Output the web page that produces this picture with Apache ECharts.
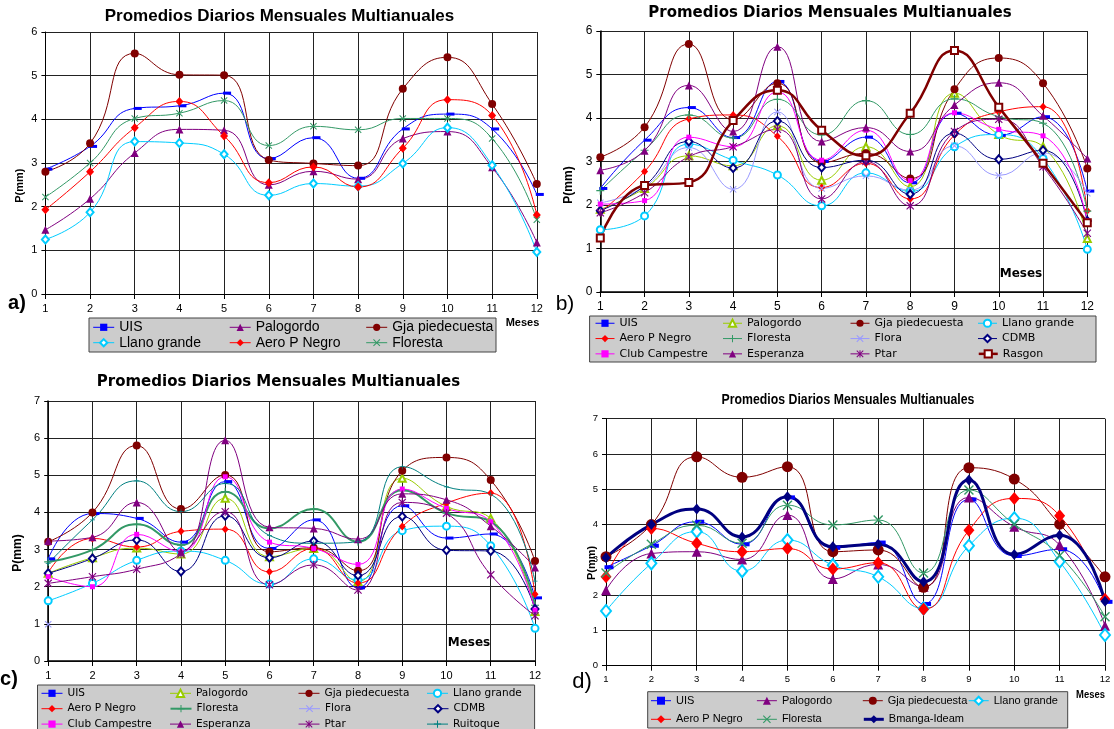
<!DOCTYPE html>
<html><head><meta charset="utf-8">
<script src="https://cdn.jsdelivr.net/npm/echarts@6/dist/echarts.min.js"></script>
<style>html,body{margin:0;padding:0;background:#fff}#c{width:1114px;height:729px}</style>
</head><body><div id="c"></div>
<script>
const months = ['1','2','3','4','5','6','7','8','9','10','11','12'];
const titleText = 'Promedios Diarios Mensuales Multianuales';

// Panel a
const a_UIS = [2.86,3.38,4.25,4.31,4.6,3.1,3.58,2.65,3.78,4.12,3.78,2.28];
const a_Palogordo = [1.47,2.18,3.23,3.77,3.75,2.5,2.81,2.63,3.56,3.72,2.9,1.18];
const a_Gja = [2.8,3.45,5.51,5.02,5.01,3.07,2.99,2.94,4.7,5.42,4.35,2.52];
const a_Llano = [1.25,1.87,3.49,3.46,3.2,2.26,2.53,2.47,2.99,3.81,2.95,0.96];
const a_Aero = [1.93,2.8,3.81,4.41,3.62,2.55,2.91,2.45,3.34,4.45,4.09,1.81];
const a_Floresta = [2.22,3.0,4.02,4.14,4.43,3.4,3.84,3.76,4.02,4.02,3.56,1.7];

// Panel b
const b_UIS = [2.38,3.49,4.24,3.55,4.84,3.0,3.56,2.51,4.11,3.6,4.03,2.32];
const b_Palogordo = [1.9,2.38,3.13,2.9,3.82,2.57,3.34,2.42,4.57,3.62,3.34,1.23];
const b_Gja = [3.1,3.79,5.7,3.96,4.8,2.97,3.19,2.61,4.66,5.38,4.8,2.84];
const b_Llano = [1.43,1.75,3.4,3.03,2.69,1.98,2.74,2.31,3.34,3.62,3.07,0.98];
const b_Aero = [1.83,2.77,3.98,4.07,3.58,2.4,2.96,2.14,3.61,4.14,4.26,1.87];
const b_Floresta = [2.33,3.26,4.07,3.54,4.43,3.61,4.4,3.62,4.44,4.03,3.88,1.86];
const b_Flora = [2.05,2.42,3.32,2.36,4.14,2.38,2.67,2.34,3.36,2.68,3.2,2.27];
const b_CDMB = [1.87,2.44,3.46,2.85,3.93,2.86,3.03,2.25,3.65,3.05,3.26,1.63];
const b_Club = [2.02,2.1,3.56,3.34,4.6,3.03,3.72,2.56,4.12,3.74,3.59,1.64];
const b_Esperanza = [2.8,3.25,4.75,3.69,5.64,3.46,3.78,3.23,4.3,4.81,4.05,3.07];
const b_Ptar = [1.82,2.28,3.11,3.34,3.74,2.14,3.0,1.98,3.69,3.97,2.88,1.35];
const b_Rasgon = [1.24,2.45,2.52,3.94,4.64,3.72,3.13,4.11,5.55,4.25,2.96,1.59];

// Panel c
const c_UIS = [2.75,3.97,3.84,3.2,4.83,3.03,3.8,1.97,4.18,3.31,3.42,1.7];
const c_Palogordo = [2.36,2.78,3.04,2.88,4.38,2.81,3.03,2.14,4.92,4.16,3.84,1.33];
const c_Gja = [3.21,4.0,5.8,4.09,5.01,2.94,3.05,2.43,5.12,5.48,4.87,2.69];
const c_Llano = [1.62,2.09,2.71,2.96,2.71,2.07,2.75,2.18,3.51,3.63,3.1,0.88];
const c_Aero = [2.38,3.3,3.07,3.49,3.55,2.4,3.03,2.1,3.62,4.25,4.52,1.8];
const c_Floresta = [2.67,2.99,3.68,3.12,4.56,3.57,4.09,3.21,4.6,3.98,3.75,1.5];
const c_Flora = [0.99,null,null,null,null,null,null,null,null,null,null,null];
const c_CDMB = [2.36,2.76,3.26,2.41,3.91,2.78,3.23,2.3,3.89,2.98,2.96,1.4];
const c_Club = [2.27,2.0,3.41,2.94,4.96,3.2,3.03,2.6,4.63,4.11,3.75,1.37];
const c_Esperanza = [3.23,3.33,4.27,2.94,5.94,3.6,3.57,3.28,4.5,4.34,3.63,2.52];
const c_Ptar = [2.09,2.27,2.47,2.88,4.02,2.05,2.59,1.91,4.27,3.98,2.32,1.22];
const c_Ruitoque = [2.63,3.8,4.85,4.02,4.78,3.38,3.17,3.21,5.23,4.69,4.49,2.15];

// Panel d
const d_UIS = [2.79,3.4,4.08,3.44,4.77,3.34,3.49,1.75,4.71,3.11,3.3,1.81];
const d_Palogordo = [2.14,3.18,3.23,3.01,4.27,2.46,2.87,2.24,4.77,3.94,3.42,1.13];
const d_Gja = [3.09,4.0,5.92,5.34,5.64,3.23,3.28,2.22,5.61,5.29,4.01,2.52];
const d_Llano = [1.55,2.9,3.8,2.68,3.56,2.85,2.52,1.62,3.4,4.18,2.95,0.87];
const d_Aero = [2.52,3.89,3.47,3.23,3.32,2.74,2.92,1.6,3.84,4.74,4.25,1.88];
const d_Floresta = [2.63,3.44,3.98,3.47,4.55,3.99,4.13,2.63,4.98,4.01,3.12,1.39];
const d_Bmanga = [3.06,4.0,4.44,3.65,4.79,3.37,3.44,2.38,5.26,3.15,3.7,1.83];

const F_ARIAL = "'Liberation Sans', Arial, sans-serif";
const F_WIDE = "'DejaVu Sans', sans-serif";

const SYM_X = 'path://M1,0 L5,4 L9,0 L10,1 L6,5 L10,9 L9,10 L5,6 L1,10 L0,9 L4,5 L0,1 Z';
const SYM_PLUS = 'path://M4.3,0 L5.7,0 L5.7,4.3 L10,4.3 L10,5.7 L5.7,5.7 L5.7,10 L4.3,10 L4.3,5.7 L0,5.7 L0,4.3 L4.3,4.3 Z';
const SYM_AST = 'path://M1,0 L5,4 L9,0 L10,1 L6,5 L10,9 L9,10 L5,6 L1,10 L0,9 L4,5 L0,1 Z M4.3,0 L5.7,0 L5.7,10 L4.3,10 Z';

function S(p, name, data, color, symbol, size, extra) {
  const empty = typeof symbol === 'string' && symbol.indexOf('empty') === 0;
  const s = {
    type: 'line', name: name + '#' + p, xAxisIndex: p, yAxisIndex: p, data: data,
    smooth: 0.5, symbol: symbol, symbolSize: size, showAllSymbol: true,
    lineStyle: { color: color, width: 1 },
    itemStyle: { color: color, borderWidth: empty ? 1 : 0 },
    emphasis: { disabled: true }, animation: false
  };
  return Object.assign(s, extra || {});
}
const DASH = { symbolOffset: [3, 0] };

const series = [
  S(0,'UIS',a_UIS,'#0000ff','rect',[8,3],DASH),
  S(0,'Palogordo',a_Palogordo,'#800080','triangle',8),
  S(0,'Gja piedecuesta',a_Gja,'#800000','circle',8),
  S(0,'Llano grande',a_Llano,'#00ccff','emptyDiamond',[7,8]),
  S(0,'Aero P Negro',a_Aero,'#ff0000','diamond',[8,9]),
  S(0,'Floresta',a_Floresta,'#339966',SYM_X,7),

  S(1,'UIS',b_UIS,'#0000ff','rect',[8,3],DASH),
  S(1,'Palogordo',b_Palogordo,'#99cc00','emptyTriangle',7),
  S(1,'Gja piedecuesta',b_Gja,'#800000','circle',8),
  S(1,'Llano grande',b_Llano,'#00ccff','emptyCircle',7),
  S(1,'Aero P Negro',b_Aero,'#ff0000','diamond',[7,8]),
  S(1,'Floresta',b_Floresta,'#339966',SYM_PLUS,8),
  S(1,'Flora',b_Flora,'#9999ff',SYM_X,7),
  S(1,'CDMB',b_CDMB,'#000080','emptyDiamond',[7,8]),
  S(1,'Club Campestre',b_Club,'#ff00ff','rect',5),
  S(1,'Esperanza',b_Esperanza,'#800080','triangle',8),
  S(1,'Ptar',b_Ptar,'#800080',SYM_AST,8),
  S(1,'Rasgon',b_Rasgon,'#800000','emptyRect',7,{lineStyle:{color:'#800000',width:2.5}}),

  S(2,'UIS',c_UIS,'#0000ff','rect',[8,3],DASH),
  S(2,'Palogordo',c_Palogordo,'#99cc00','emptyTriangle',7),
  S(2,'Gja piedecuesta',c_Gja,'#800000','circle',8),
  S(2,'Llano grande',c_Llano,'#00ccff','emptyCircle',7),
  S(2,'Aero P Negro',c_Aero,'#ff0000','diamond',[7,8]),
  S(2,'Floresta',c_Floresta,'#339966',SYM_PLUS,8,{lineStyle:{color:'#339966',width:2}}),
  S(2,'Flora',c_Flora,'#9999ff',SYM_X,7),
  S(2,'CDMB',c_CDMB,'#000080','emptyDiamond',[7,8]),
  S(2,'Club Campestre',c_Club,'#ff00ff','rect',5),
  S(2,'Esperanza',c_Esperanza,'#800080','triangle',8),
  S(2,'Ptar',c_Ptar,'#800080',SYM_AST,8),
  S(2,'Ruitoque',c_Ruitoque,'#008080',SYM_PLUS,5),

  S(3,'UIS',d_UIS,'#0000ff','rect',[9,4],DASH),
  S(3,'Palogordo',d_Palogordo,'#800080','triangle',10),
  S(3,'Gja piedecuesta',d_Gja,'#800000','circle',11),
  S(3,'Llano grande',d_Llano,'#00ccff','emptyDiamond',[10,12]),
  S(3,'Aero P Negro',d_Aero,'#ff0000','diamond',[11,13]),
  S(3,'Floresta',d_Floresta,'#339966',SYM_X,10),
  S(3,'Bmanga-Ideam',d_Bmanga,'#000080','diamond',[9,11],{lineStyle:{color:'#000080',width:3}})
];

const grids = [
  {left:45.4, top:32, width:491.4, height:262},
  {left:600.3, top:31, width:487, height:261},
  {left:48.2, top:401, width:486.8, height:260},
  {left:606, top:418.7, width:499, height:247}
];
const tickFont = [
  {fontSize:11, fontFamily:F_ARIAL},
  {fontSize:12, fontFamily:F_ARIAL},
  {fontSize:11, fontFamily:F_ARIAL},
  {fontSize:9.5, fontFamily:F_ARIAL}
];
const yMax = [6,6,7,7];
const axisW = [1,1.5,1.5,1];

const xAxis = grids.map((g,i)=>({
  type:'category', gridIndex:i, data:months, boundaryGap:false,
  axisLine:{lineStyle:{color:'#000', width:axisW[i]}},
  axisTick:{show:true, length:5, lineStyle:{color:'#000'}},
  axisLabel:Object.assign({color:'#000', margin:9}, tickFont[i]),
  splitLine:{show:true, lineStyle:{color:'#222', width:1}}
}));
const yAxis = grids.map((g,i)=>({
  type:'value', gridIndex:i, min:0, max:yMax[i], interval:1,
  axisLine:{show:true, lineStyle:{color:'#000', width:axisW[i]}},
  axisTick:{show:true, length:4, lineStyle:{color:'#000'}},
  axisLabel:Object.assign({color:'#000', margin:8}, tickFont[i]),
  splitLine:{show:true, lineStyle:{color:'#222', width:1}}
}));

function names(p){
  return series.filter(s=>s.xAxisIndex===p).map(s=>({name:s.name, lineStyle:{width:s.lineStyle.width}}));
}
const fmt = n => n.split('#')[0];
const legends = [
  {left:92.7, top:319.6, width:420, itemWidth:21, itemHeight:9,
   textStyle:{fontSize:14, fontFamily:F_ARIAL, width:110, lineHeight:15.4}, data:names(0)},
  {left:595, top:315.6, width:515, itemWidth:19, itemHeight:9,
   textStyle:{fontSize:11, fontFamily:F_WIDE, width:103, lineHeight:15.3}, data:names(1)},
  {left:41, top:685.6, width:518, itemWidth:21, itemHeight:9,
   textStyle:{fontSize:10.5, fontFamily:F_WIDE, width:102, lineHeight:15.4}, data:names(2)},
  {left:650.5, top:691.4, width:440, itemWidth:20, itemHeight:10,
   textStyle:{fontSize:11, fontFamily:F_ARIAL, width:80.4, lineHeight:18.6}, data:names(3)}
].map(l=>Object.assign({orient:'horizontal', itemGap:0, padding:0, formatter:fmt,
  selectedMode:false, inactiveColor:'#999'}, l, {textStyle:Object.assign({color:'#000'}, l.textStyle)}));

function T(x,y,text,font,extra){
  return Object.assign({type:'text', x:x, y:y, z:10, style:Object.assign({text:text, fill:'#000',
    align:'center', verticalAlign:'middle', textAlign:'center', textVerticalAlign:'middle'}, font)}, extra||{});
}
function R(x1,y1,x2,y2){
  return {type:'rect', z:-1, shape:{x:x1, y:y1, width:x2-x1, height:y2-y1},
    style:{fill:'#cccccc', stroke:'#444', lineWidth:1}};
}
const graphic = [
  R(89,318,496,352), R(589.6,316,1096,362), R(37.5,685,534.6,745), R(647.7,691.7,1067.7,728),
  T(279.5,16,titleText,{fontSize:17, fontWeight:'bold', fontFamily:F_ARIAL}),
  T(830,13,titleText,{fontSize:15, fontWeight:'bold', fontFamily:F_WIDE}),
  T(278.5,382,titleText,{fontSize:15, fontWeight:'bold', fontFamily:F_WIDE}),
  T(848,400,titleText,{fontSize:15, fontWeight:'bold', fontFamily:F_ARIAL},{scaleX:0.82}),
  T(19.6,185.7,'P(mm)',{fontSize:11, fontWeight:'bold', fontFamily:F_ARIAL},{rotation:Math.PI/2}),
  T(568.5,185,'P(mm)',{fontSize:12, fontWeight:'bold', fontFamily:F_ARIAL},{rotation:Math.PI/2}),
  T(17.9,553,'P(mm)',{fontSize:12, fontWeight:'bold', fontFamily:F_ARIAL},{rotation:Math.PI/2}),
  T(592.4,563,'P(mm)',{fontSize:11, fontWeight:'bold', fontFamily:F_ARIAL},{rotation:Math.PI/2}),
  T(522.5,323,'Meses',{fontSize:11, fontWeight:'bold', fontFamily:F_ARIAL}),
  T(1021,274,'Meses',{fontSize:12, fontWeight:'bold', fontFamily:F_WIDE}),
  T(469,643,'Meses',{fontSize:12, fontWeight:'bold', fontFamily:F_WIDE}),
  T(1090.5,695,'Meses',{fontSize:11.5, fontWeight:'bold', fontFamily:F_ARIAL},{scaleX:0.82}),
  T(17,303,'a)',{fontSize:20, fontWeight:'bold', fontFamily:F_ARIAL}),
  T(565,304,'b)',{fontSize:21, fontFamily:F_ARIAL}),
  T(9,679,'c)',{fontSize:20, fontWeight:'bold', fontFamily:F_ARIAL}),
  T(582,682,'d)',{fontSize:22, fontFamily:F_ARIAL})
];

const chart = echarts.init(document.getElementById('c'), null, {renderer:'canvas'});
chart.setOption({
  backgroundColor:'#fff', animation:false,
  grid:grids, xAxis:xAxis, yAxis:yAxis, legend:legends, series:series, graphic:graphic
});
</script></body></html>
